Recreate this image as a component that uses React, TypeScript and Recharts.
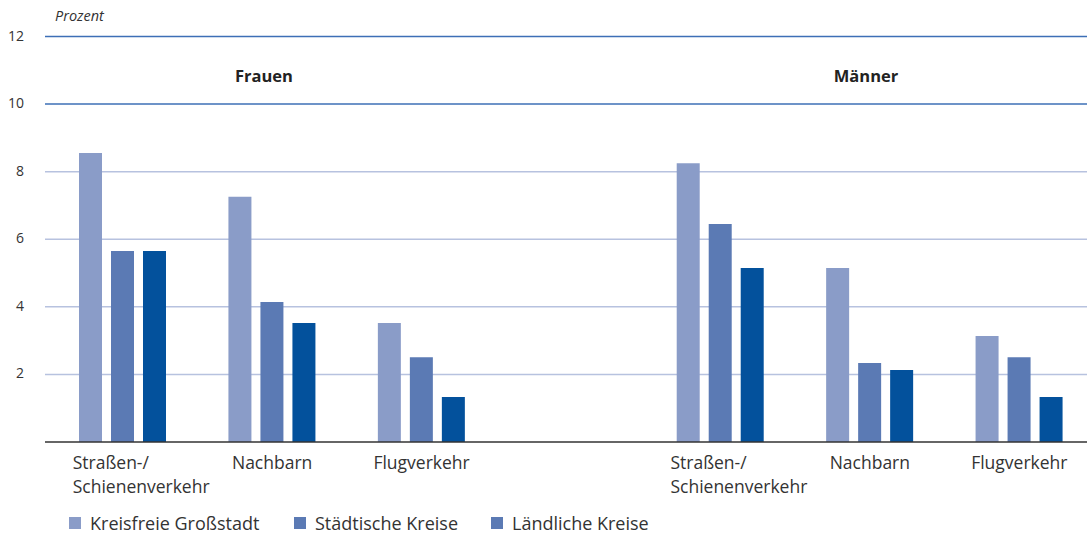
import React from "react";
import { BarChart, Bar, XAxis, YAxis, CartesianGrid, Customized } from "recharts";

const categories = ["F1", "F2", "F3", "gap", "M1", "M2", "M3"];
const categoryLabels: Record<string, string[]> = {
  F1: ["Straßen-/", "Schienenverkehr"],
  F2: ["Nachbarn"],
  F3: ["Flugverkehr"],
  gap: [],
  M1: ["Straßen-/", "Schienenverkehr"],
  M2: ["Nachbarn"],
  M3: ["Flugverkehr"],
};
const kreisfreieGrossstadt = [8.55, 7.26, 3.52, null, 8.25, 5.15, 3.14];
const staedtischeKreise = [5.65, 4.14, 2.51, null, 6.45, 2.34, 2.51];
const laendlicheKreise = [5.65, 3.52, 1.33, null, 5.15, 2.13, 1.33];
const yTicks = [2, 4, 6, 8, 10, 12];
const seriesNames = ["Kreisfreie Großstadt", "Städtische Kreise", "Ländliche Kreise"];
const barColors = ["#8a9cc8", "#5b7ab4", "#03519c"];
const legendColors = ["#8a9cc8", "#5b7ab4", "#5b7ab4"];
const groupTitles = ["Frauen", "Männer"];

const data = categories.map((c, i) => ({
  cat: c,
  a: kreisfreieGrossstadt[i],
  b: staedtischeKreise[i],
  c: laendlicheKreise[i],
}));

const FONT = "'Open Sans', sans-serif";

const XTick = (props: any) => {
  const { x, y, payload } = props;
  const lines = categoryLabels[payload.value] || [];
  if (lines.length === 0) return null;
  const multi = lines.length > 1;
  return (
    <text
      x={multi ? x - 50 : x}
      y={y + 19}
      textAnchor={multi ? "start" : "middle"}
      fill="#333"
      fontSize={17.5}
      fontFamily={FONT}
    >
      {lines.map((l, i) => (
        <tspan key={i} x={multi ? x - 50 : x} dy={i === 0 ? 0 : 24}>
          {l}
        </tspan>
      ))}
    </text>
  );
};

const YTick = (props: any) => {
  const { y, payload } = props;
  return (
    <text x={24} y={y + 4} textAnchor="end" fill="#333" fontSize={14} fontFamily={FONT}>
      {payload.value}
    </text>
  );
};

const Annotations = () => (
  <g>
    <text x={55} y={21} fontSize={14.5} fontStyle="italic" fill="#333" fontFamily={FONT}>
      Prozent
    </text>
    <text x={264} y={82} textAnchor="middle" fontSize={16.5} fontWeight="bold" fill="#222" fontFamily={FONT}>
      {groupTitles[0]}
    </text>
    <text x={866} y={82} textAnchor="middle" fontSize={16.5} fontWeight="bold" fill="#222" fontFamily={FONT}>
      {groupTitles[1]}
    </text>
  </g>
);

const legendLefts = [69, 294, 491];

export default function App() {
  return (
    <div
      style={{
        position: "absolute",
        left: 0,
        top: 0,
        width: 1087,
        height: 534,
        overflow: "hidden",
        background: "#fff",
      }}
    >
      <BarChart
        width={1094}
        height={534}
        data={data}
        margin={{ top: 36.5, right: 0, bottom: 0, left: 0 }}
        barSize={23}
        barGap={9}
        barCategoryGap={0}
      >
        <CartesianGrid
          vertical={false}
          horizontalValues={[10, 12]}
          stroke="#3d6fb6"
          strokeWidth={1.5}
        />
        <CartesianGrid
          vertical={false}
          horizontalValues={[2, 4, 6, 8]}
          stroke="#b7c2df"
          strokeWidth={1.5}
        />
        <XAxis
          dataKey="cat"
          height={92}
          interval={0}
          tickLine={false}
          axisLine={{ stroke: "#333", strokeWidth: 1.5 }}
          tick={<XTick />}
          padding={{ left: 3, right: 0 }}
        />
        <YAxis
          width={45}
          domain={[0, 12]}
          ticks={yTicks}
          axisLine={false}
          tickLine={false}
          tick={<YTick />}
          interval={0}
        />
        <Bar dataKey="a" name={seriesNames[0]} fill={barColors[0]} isAnimationActive={false} />
        <Bar dataKey="b" name={seriesNames[1]} fill={barColors[1]} isAnimationActive={false} />
        <Bar dataKey="c" name={seriesNames[2]} fill={barColors[2]} isAnimationActive={false} />
        <Customized component={Annotations} />
      </BarChart>
      {seriesNames.map((n, i) => (
        <div
          key={n}
          style={{
            position: "absolute",
            left: legendLefts[i],
            top: 511,
            display: "flex",
            alignItems: "center",
            fontFamily: FONT,
            fontSize: 18,
            color: "#333",
            whiteSpace: "nowrap",
          }}
        >
          <span
            style={{
              display: "inline-block",
              width: 12,
              height: 12,
              background: legendColors[i],
              marginRight: 9,
            }}
          />
          {n}
        </div>
      ))}
    </div>
  );
}
